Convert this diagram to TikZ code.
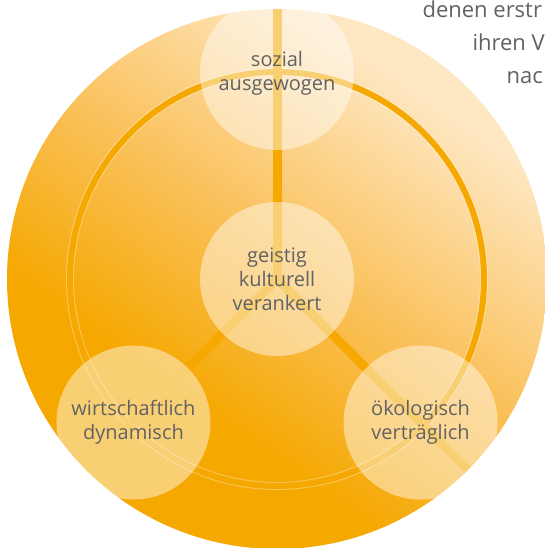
\documentclass[tikz,border=0pt]{standalone}
\usepackage{fontspec}
\setmainfont{Open Sans}
\usetikzlibrary{calc, backgrounds}

\definecolor{sundark}{RGB}{245,168,0}
\definecolor{sunmid}{RGB}{250,192,88}
\definecolor{sunlight}{RGB}{254,232,196}
\definecolor{txtgray}{RGB}{98,98,100}
\pgfdeclareverticalshading{sunglow}{100bp}{color(0bp)=(sundark); color(25bp)=(sundark); color(36bp)=(sundark); color(52bp)=(sunmid); color(72bp)=(sunlight); color(100bp)=(sunlight)}

\begin{document}
\begin{tikzpicture}[x=1pt, y=1pt,
  bubble/.style={
    circle, fill=white, fill opacity=0.45, text opacity=1,
    minimum size=154pt, inner sep=0pt,
    align=center, font=\fontsize{20}{24}\selectfont, text=txtgray
  },
  spoke/.style={draw=sundark, line width=9pt},
  ringline/.style={draw=sundark, line width=6pt},
  ringedge/.style={draw=white, draw opacity=0.35, line width=8pt},
  lbl/.style={anchor=base west, font=\fontsize{22}{26}\selectfont, text=txtgray},
]

\useasboundingbox (0,0) rectangle (544,548);
\coordinate (c) at (277,269);

% ===== Centre and three pillars =====
\node[bubble] (geist) at (c) {geistig\\kulturell\\verankert};
\node[bubble] (sozial) at ($(c)+(90:206)$) {sozial\\ausgewogen};
\node[bubble] (wirt) at ($(c)+(225:203)$) {wirtschaftlich\\dynamisch};
\node[bubble] (oeko) at ($(c)+(-45:203)$) {ökologisch\\verträglich};

% spokes run out to the rim
\coordinate (rimN) at ($(c)+(90:270)$);
\coordinate (rimSW) at ($(c)+(225:270)$);
\coordinate (rimSE) at ($(c)+(-45:270)$);

% ===== Text cut off at the top right =====
\node[lbl] (t1) at (419,530) {denen erstr};
\node[lbl] (t2) at (469,497) {ihren V};
\node[lbl] (t3) at (503,464) {nac};

% ===== Disc, ring and spokes behind =====
\begin{scope}[on background layer]
  \fill[white] (0,0) rectangle (544,548);
  \shade[shading=sunglow, shading angle=-35] (c) circle (270);
  \draw[ringedge] (c) circle (207);
  \draw[ringline] (c) circle (207);
  \clip (c) circle (270);
  \draw[spoke] (geist.center) -- (rimN);
  \draw[spoke] (geist.center) -- (rimSW);
  \draw[spoke] (geist.center) -- (rimSE);
\end{scope}

\end{tikzpicture}
\end{document}
